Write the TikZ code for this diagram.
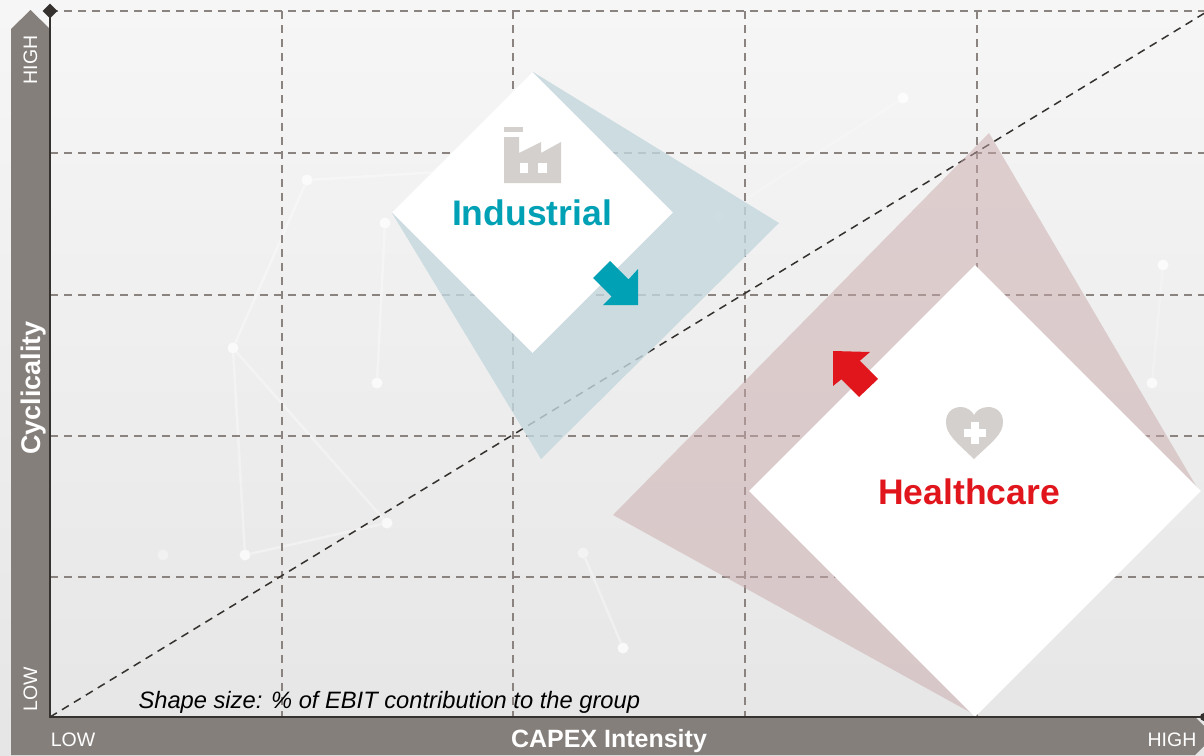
\documentclass[tikz,border=0pt]{standalone}
\usepackage{fontspec}
\setmainfont{Liberation Sans}
\usetikzlibrary{positioning}
\usetikzlibrary{calc}
\usetikzlibrary{shapes.geometric}

\definecolor{bandgray}{HTML}{857F7B}
\definecolor{gridgray}{HTML}{8A837F}
\definecolor{axisdark}{HTML}{34312E}
\definecolor{indteal}{HTML}{00A0B5}
\definecolor{hcred}{HTML}{E1161C}
\definecolor{icongray}{HTML}{D4D0CD}
\definecolor{indshade}{HTML}{C3D7DD}
\definecolor{hcshade}{HTML}{C9A9AA}

\begin{document}
\begin{tikzpicture}[x=1pt,y=-1pt,
    gridline/.style={gridgray, line width=1.5pt, dash pattern=on 8pt off 6pt},
    axisline/.style={axisdark, line width=2pt},
    sector/.style={diamond, fill=white, inner sep=0pt, aspect=1},
    sectorname/.style={anchor=base, font=\fontsize{35.5}{40}\selectfont\bfseries},
    axislabel/.style={anchor=base, text=white, font=\fontsize{19.5}{22}\selectfont},
    axistitle/.style={anchor=base, text=white, font=\fontsize{25}{28}\selectfont\bfseries},
    netdot/.style={circle, fill=white, opacity=0.75, minimum size=11pt, inner sep=0pt},
    netline/.style={white, opacity=0.35, line width=2.5pt}]
  \useasboundingbox (0,0) rectangle (1204,755);
  \clip (0,0) rectangle (1204,755);
  \fill[top color=gray!7, bottom color=gray!20] (0,0) rectangle (1204,755);

  \node[netdot] (n1) at (307,180) {};
  \node[netdot] (n2) at (385,223) {};
  \node[netdot] (n3) at (233,348) {};
  \node[netdot] (n4) at (377,383) {};
  \node[netdot] (n5) at (245,555) {};
  \node[netdot] (n6) at (387,523) {};
  \node[netdot, opacity=0.35] (n7) at (163,555) {};
  \node[netdot] (n8) at (903,98) {};
  \node[netdot, opacity=0.45] (n9) at (718,217) {};
  \node[netdot] (n10) at (1163,265) {};
  \node[netdot] (n11) at (1152,383) {};
  \node[netdot] (n12) at (623,648) {};
  \node[netdot, opacity=0.45] (n13) at (583,553) {};
  \coordinate (n0) at (440,172);
  \draw[netline] (n0) -- (n1) -- (n3) -- (n5) -- (n6) -- (n3);
  \draw[netline] (n2) -- (n4);
  \draw[netline] (n13) -- (n12);
  \draw[netline, opacity=0.2] (n9) -- (n8);
  \draw[netline, opacity=0.2] (n10) -- (n11);

  \foreach \gx in {282,513,745,977}
    \draw[gridline] (\gx,11) -- (\gx,717);
  \foreach \gy in {11,153,295,436,577}
    \draw[gridline] (50,\gy) -- (1204,\gy);
  \draw[axisdark, line width=1.5pt, dash pattern=on 8pt off 6pt] (50,717) -- (1208,11);

  \fill[indshade, opacity=0.8] (392,213) -- (533,72) -- (779,223) -- (541,459) -- cycle;
  \fill[hcshade, opacity=0.5] (613,515) -- (989,133) -- (1199,491) -- (975,715) -- cycle;

  \node[sector, minimum width=281pt, minimum height=281pt] (ind) at (532.5,212.5) {};
  \node[sector, minimum width=452pt, minimum height=452pt] (hc) at (975,491) {};

  \node[sectorname, text=indteal] (indname) at (532,225) {Industrial};
  \node[sectorname, text=hcred] (hcname) at (969,504) {Healthcare};

  \fill[icongray] (504,127) rectangle (523,132);
  \fill[icongray] (504,137) -- (519,137) -- (519,153) -- (541,142) -- (541,153) -- (561,142) -- (561,183) -- (504,183) -- cycle;
  \fill[white] (520,163) rectangle (528,173);
  \fill[white] (538,163) rectangle (547,173);

  \fill[icongray] (974,459) .. controls (955,441) and (946,434) .. (946,422) .. controls (946,412) and (953,407) .. (961,407) .. controls (967,407) and (972,411) .. (974,415) .. controls (976,411) and (981,407) .. (988,407) .. controls (996,407) and (1003,412) .. (1003,422) .. controls (1003,434) and (993,441) .. (974,459) -- cycle;
  \fill[white] (964,429) rectangle (986,437);
  \fill[white] (971,422) rectangle (979,444);

  \fill[indteal] (593,278) -- (611.5,296.5) -- (603,305) -- (638,305) -- (638,269) -- (628.5,279.5) -- (610,261) -- cycle;
  \fill[hcred] (833,351) -- (870,352) -- (859.8,360.8) -- (878,379) -- (859,397) -- (841.3,379.3) -- (833,386) -- cycle;

  \node[font=\fontsize{23.7}{28}\selectfont\itshape, anchor=base west] (note) at (135,708) {Shape size: \% of EBIT contribution to the group};

  \fill[bandgray] (11,755) -- (11,29) -- (30.5,10) -- (50,29) -- (50,717) -- (1195,717) -- (1214,736) -- (1195,755) -- cycle;
  \draw[axisline] (50,11) -- (50,717) -- (1204,717);
  \node[diamond, fill=axisdark, minimum width=15pt, minimum height=15pt, inner sep=0pt] (ytip) at (50,11) {};
  \node[circle, fill=axisdark, minimum size=8pt, inner sep=0pt] (xtip) at (1204,717) {};

  \node[axislabel, rotate=90] (yhigh) at (37,60) {HIGH};
  \node[axislabel, rotate=90] (ylow) at (37,689) {LOW};
  \node[axistitle, rotate=90, font=\fontsize{27}{30}\selectfont\bfseries] (ytitle) at (40,388) {Cyclicality};
  \node[axislabel] (xlow) at (73,746) {LOW};
  \node[axislabel] (xhigh) at (1172,746) {HIGH};
  \node[axistitle] (xtitle) at (609,747) {CAPEX Intensity};
\end{tikzpicture}
\end{document}
